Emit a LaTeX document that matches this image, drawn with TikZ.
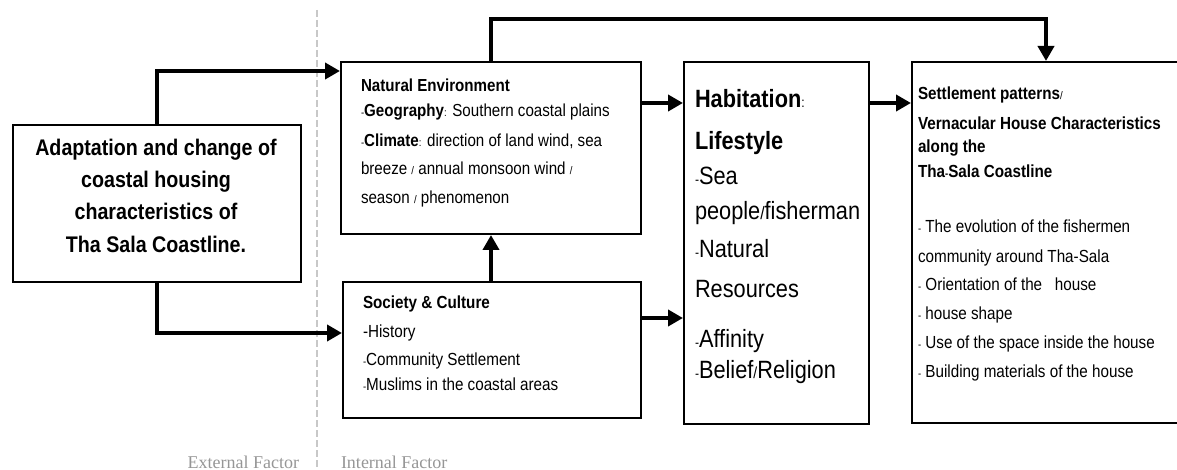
\documentclass[tikz,border=0pt]{standalone}
\usepackage{fontspec}
\setmainfont{Liberation Sans}[FakeStretch=0.87]
\newfontfamily\factorfont{Liberation Serif}
\usetikzlibrary{arrows.meta,calc}
\definecolor{factorgray}{RGB}{150,150,150}
\definecolor{dashgray}{RGB}{200,200,200}
\newcommand\smp[2][11]{{\fontsize{#1}{#1}\selectfont #2}}
\tikzset{
  box/.style={draw=black, line width=2pt, rectangle, inner sep=0pt, anchor=north west},
  arr/.style={line width=4pt, -{Triangle[length=15pt,width=16pt]}},
  txt/.style={anchor=base west, inner sep=0pt, outer sep=0pt},
  ttl/.style={anchor=base, inner sep=0pt, outer sep=0pt, font=\fontsize{22.6}{32}\selectfont\bfseries},
  nfont/.style={font=\fontsize{17.4}{20}\selectfont},
  sfont/.style={font=\fontsize{17.5}{20}\selectfont},
  hfont/.style={font=\fontsize{25}{28}\selectfont},
  factor/.style={inner sep=0pt, outer sep=0pt, text=factorgray, font=\factorfont\fontsize{18}{20}\selectfont},
}
\begin{document}
\begin{tikzpicture}[x=1pt,y=-1pt]
\useasboundingbox (0,0) rectangle (1177,470);

% dashed divider
\coordinate (dtop) at (317,10);
\coordinate (dbot) at (317,470);
\draw[dashgray, line width=2pt, dash pattern=on 7pt off 3pt] (dtop) -- (dbot);

% boxes
\node[box, minimum width=288pt, minimum height=157pt] (tb) at (12,124) {};
\node[box, minimum width=300pt, minimum height=172pt] (nat) at (340,61) {};
\node[box, minimum width=298pt, minimum height=136pt] (soc) at (342,281) {};
\node[box, minimum width=185pt, minimum height=362pt] (hab) at (683,61) {};
\node[box, minimum width=271pt, minimum height=361pt] (set) at (911,61) {};

% title text
\node[ttl] (t1) at (156,156) {Adaptation and change of};
\node[ttl] (t2) at (156,188) {coastal housing};
\node[ttl] (t3) at (156,220) {characteristics of};
\node[ttl] (t4) at (156,252) {Tha Sala Coastline.};

% natural environment text
\node[txt,nfont] (n1) at (361,92) {\textbf{Natural Environment}};
\node[txt,nfont] (n2) at (361,117) {\smp{-}\textbf{Geography}\smp{:} Southern coastal plains};
\node[txt,nfont] (n3) at (361,147) {\smp{-}\textbf{Climate}\smp{:} direction of land wind, sea};
\node[txt,nfont] (n4) at (361,175) {breeze \smp{/} annual monsoon wind \smp{/}};
\node[txt,nfont] (n5) at (361,204) {season \smp{/} phenomenon};

% society text
\node[txt,sfont] (s1) at (363,308) {\textbf{Society \& Culture}};
\node[txt,sfont] (s2) at (363,337) {-History};
\node[txt,sfont] (s3) at (363,365) {\smp{-}Community Settlement};
\node[txt,sfont] (s4) at (363,390) {\smp{-}Muslims in the coastal areas};

% habitation text
\node[txt,hfont] (h1) at (695,108) {\textbf{Habitation}\smp[14]{:}};
\node[txt,hfont] (h2) at (695,150) {\textbf{Lifestyle}};
\node[txt,hfont] (h3) at (695,185) {\smp[14]{-}Sea};
\node[txt,hfont] (h4) at (695,220) {people\smp[18]{/}fisherman};
\node[txt,hfont] (h5) at (695,258) {\smp[14]{-}Natural};
\node[txt,hfont] (h6) at (695,297) {Resources};
\node[txt,hfont] (h7) at (695,347) {\smp[14]{-}Affinity};
\node[txt,hfont] (h8) at (695,378) {\smp[14]{-}Belief\smp[16]{/}Religion};

% settlement text
\node[txt,sfont] (p1) at (918,100) {\textbf{Settlement patterns}\smp{/}};
\node[txt,sfont] (p2) at (918,130) {\textbf{Vernacular House Characteristics}};
\node[txt,sfont] (p3) at (918,153) {\textbf{along the}};
\node[txt,sfont] (p4) at (918,178) {\textbf{Tha\smp{-}Sala Coastline}};
\node[txt,sfont] (p5) at (918,233) {\smp{-} The evolution of the fishermen};
\node[txt,sfont] (p6) at (918,262) {community around Tha-Sala};
\node[txt,sfont] (p7) at (918,290) {\smp{-} Orientation of the\ \ \ house};
\node[txt,sfont] (p8) at (918,319) {\smp{-} house shape};
\node[txt,sfont] (p9) at (918,348) {\smp{-} Use of the space inside the house};
\node[txt,sfont] (p10) at (918,377) {\smp{-} Building materials of the house};

% factor labels
\node[factor, anchor=base east] (ext) at (299,468) {External Factor};
\node[factor, anchor=base west] (int) at (341,468) {Internal Factor};

% level coordinates
\coordinate (y71) at (0,71);
\coordinate (y333) at (0,333);
\coordinate (y103) at (0,103);
\coordinate (y318) at (0,318);
\coordinate (y19) at (0,19);
\coordinate (x1046) at (1046,0);

% connectors
\draw[arr] (tb.north) |- (nat.west |- y71);
\draw[arr] (tb.south) |- (soc.west |- y333);
\draw[arr] (soc.north -| nat.south) -- (nat.south);
\draw[arr] (nat.east |- y103) -- (hab.west |- y103);
\draw[arr] (soc.east |- y318) -- (hab.west |- y318);
\draw[arr] (hab.east |- y103) -- (set.west |- y103);
\draw[arr] (nat.north) -- (nat.north |- y19) -- (x1046 |- y19) -- (x1046 |- set.north);
\end{tikzpicture}
\end{document}
